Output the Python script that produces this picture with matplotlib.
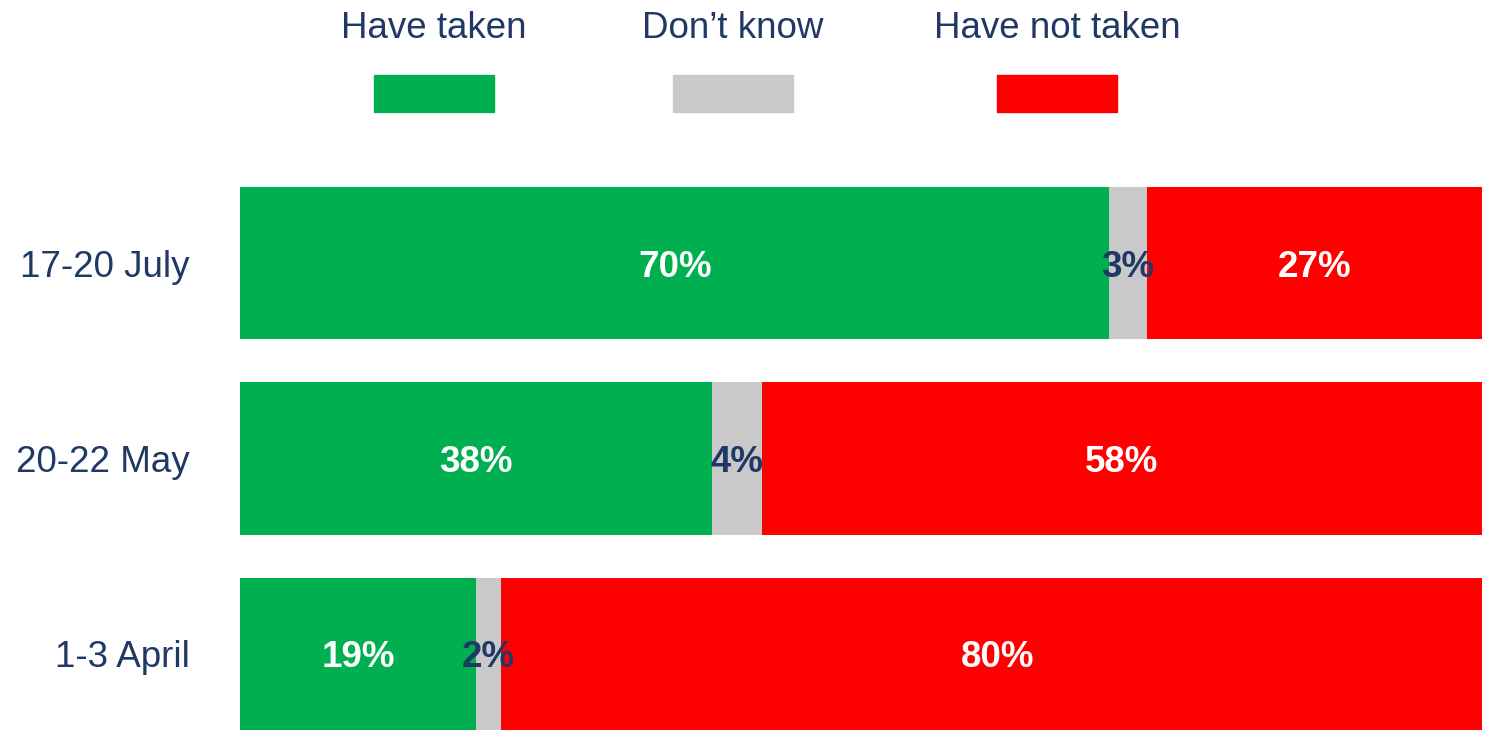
import matplotlib
matplotlib.use('Agg')
import matplotlib.pyplot as plt
from matplotlib.patches import Rectangle

# Dati
periodi = ['1-3 April', '20-22 May', '17-20 July']
have_taken = [19, 38, 70]
dont_know = [2, 4, 3]
have_not_taken = [80, 58, 27]

serie = ['Have taken', 'Don\u2019t know', 'Have not taken']
colori = ['#00B050', '#C9C9C9', '#FF0000']
colori_testo = ['white', '#1F3864', 'white']
navy = '#1F3864'

plt.rcParams['font.family'] = ['Liberation Sans', 'DejaVu Sans']

W, H = 1486, 731
fig = plt.figure(figsize=(W / 100, H / 100), dpi=100)
ax = fig.add_axes([240 / W, (H - 730) / H, (1482 - 240) / W, (730 - 187) / H])

valori = [have_taken, dont_know, have_not_taken]
left = [0] * len(periodi)
for nome, vals, col, tcol in zip(serie, valori, colori, colori_testo):
    bars = ax.barh(range(len(periodi)), vals, left=left, height=0.78, color=col, label=nome)
    for b, v in zip(bars, vals):
        ax.text(b.get_x() + b.get_width() / 2, b.get_y() + b.get_height() / 2, f'{v}%',
                ha='center', va='center_baseline', color=tcol, fontsize=26.5, fontweight='bold')
    left = [l + v for l, v in zip(left, vals)]

ax.set_xlim(0, 100)
ax.set_ylim(-0.39, 2.39)
ax.set_yticks(range(len(periodi)))
ax.set_yticklabels(periodi, fontsize=26.5, color=navy, va='center_baseline')
ax.tick_params(axis='y', length=0, pad=36)
ax.set_xticks([])
for s in ax.spines.values():
    s.set_visible(False)

# Legenda manuale: testo sopra, rettangolo sotto
centri = [434, 733, 1057]
for nome, col, cx in zip(serie, colori, centri):
    fig.text(cx / W, 1 - 25 / H, nome, ha='center', va='center_baseline', fontsize=26.5, color=navy)
    fig.patches.append(Rectangle(((cx - 60) / W, 1 - 112 / H), 120 / W, 37 / H,
                                 transform=fig.transFigure, color=col))

fig.savefig('out.png', dpi=100)
